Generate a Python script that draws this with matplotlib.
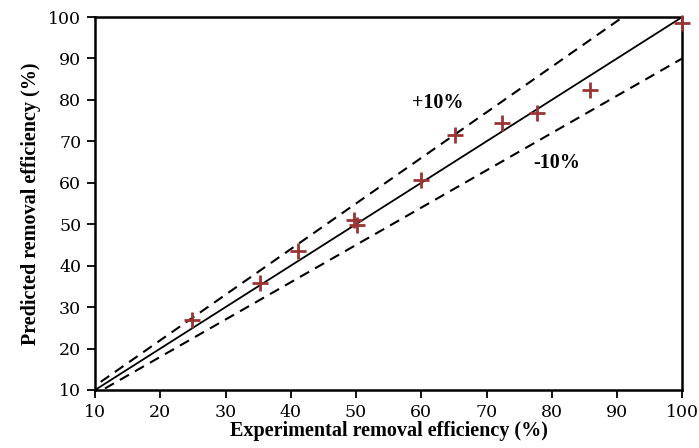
import matplotlib
matplotlib.use("Agg")
import matplotlib.pyplot as plt
import numpy as np

experimental = [24.8, 35.3, 41.1, 49.7, 50.2, 60.0, 65.1, 72.3, 77.8, 85.8, 100.0]
predicted = [26.9, 35.8, 43.6, 50.9, 49.9, 60.7, 71.6, 74.4, 76.8, 82.3, 98.5]
ticks = [10, 20, 30, 40, 50, 60, 70, 80, 90, 100]

plt.rcParams['font.family'] = ['Liberation Serif', 'DejaVu Serif']

fig = plt.figure(figsize=(6.99, 4.48), dpi=100)
ax = fig.add_axes([0.136, 0.1295, 0.840, 0.8325])

xx = np.array([0, 110])
ax.plot(xx, xx, color='black', lw=1.3, zorder=2)
ax.plot(xx, 1.1 * xx, color='black', lw=1.5, ls=(0, (5, 3.3)), zorder=2)
ax.plot(xx, 0.9 * xx, color='black', lw=1.5, ls=(0, (5, 3.3)), zorder=2)

ax.plot(experimental, predicted, ls='none', marker='+', markersize=11,
        mew=2.0, color='#9a3434', zorder=3, clip_on=False)

ax.text(62.6, 79.3, '+10%', ha='center', va='center', fontsize=14.5, fontweight='bold')
ax.text(80.8, 64.8, '-10%', ha='center', va='center', fontsize=14.5, fontweight='bold')

ax.set_xlim(10, 100)
ax.set_ylim(10, 100)
ax.set_xticks(ticks)
ax.set_yticks(ticks)
ax.tick_params(direction='out', length=6, width=1.3, labelsize=12.5, pad=4)
for lab in ax.get_xticklabels() + ax.get_yticklabels():
    lab.set_fontfamily('DejaVu Serif')
for s in ax.spines.values():
    s.set_linewidth(1.8)

ax.set_xlabel('Experimental removal efficiency (%)', fontsize=14.5, fontweight='bold', labelpad=0)
ax.set_ylabel('Predicted removal efficiency (%)', fontsize=14.5, fontweight='bold', labelpad=5)

fig.savefig('out.png', dpi=100)
